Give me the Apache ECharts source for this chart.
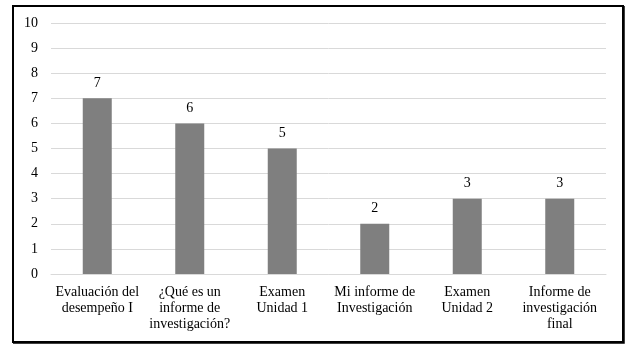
<!DOCTYPE html>
<html>
<head>
<meta charset="utf-8">
<script src="https://cdn.jsdelivr.net/npm/echarts@6/dist/echarts.min.js"></script>
<style>
  html, body { margin: 0; padding: 0; background: #fff; }
  #chart { width: 636px; height: 354px; }
</style>
</head>
<body>
<div id="chart"></div>
<script>
var categories = [
  "Evaluación del\ndesempeño I",
  "¿Qué es un\ninforme de\ninvestigación?",
  "Examen\nUnidad 1",
  "Mi informe de\nInvestigación",
  "Examen\nUnidad 2",
  "Informe de\ninvestigación\nfinal"
];
var values = [7, 6, 5, 2, 3, 3];

var myChart = echarts.init(document.getElementById("chart"));
var font = "'Liberation Serif', 'DejaVu Serif', serif";
var option = {
  animation: false,
  grid: {
    left: 51,
    right: 30,
    top: 23,
    bottom: 80
  },
  graphic: [
    {
      type: "rect",
      shape: { x: 13, y: 6, width: 610, height: 336 },
      style: { fill: "none", stroke: "#000", lineWidth: 2 },
      silent: true
    },
    {
      // slightly heavier right/bottom edge
      type: "polyline",
      shape: { points: [[624, 6], [624, 343], [13, 343]] },
      style: { fill: "none", stroke: "#000", lineWidth: 1.5 },
      silent: true
    }
  ],
  xAxis: {
    type: "category",
    data: categories,
    axisTick: { show: false },
    axisLine: { lineStyle: { color: "#d9d9d9" } },
    axisLabel: {
      interval: 0,
      color: "#000",
      fontFamily: font,
      fontSize: 14,
      lineHeight: 16,
      margin: 10
    }
  },
  yAxis: {
    type: "value",
    min: 0,
    max: 10,
    interval: 1,
    axisLine: { show: false },
    axisTick: { show: false },
    axisLabel: {
      color: "#000",
      fontFamily: font,
      fontSize: 14,
      margin: 13
    },
    splitLine: { lineStyle: { color: "#d9d9d9" } }
  },
  series: [
    {
      type: "bar",
      data: values,
      barWidth: 29,
      itemStyle: { color: "#7f7f7f" },
      label: {
        show: true,
        position: "top",
        distance: 8,
        color: "#000",
        fontFamily: font,
        fontSize: 14
      }
    }
  ]
};
myChart.setOption(option);
</script>
</body>
</html>
